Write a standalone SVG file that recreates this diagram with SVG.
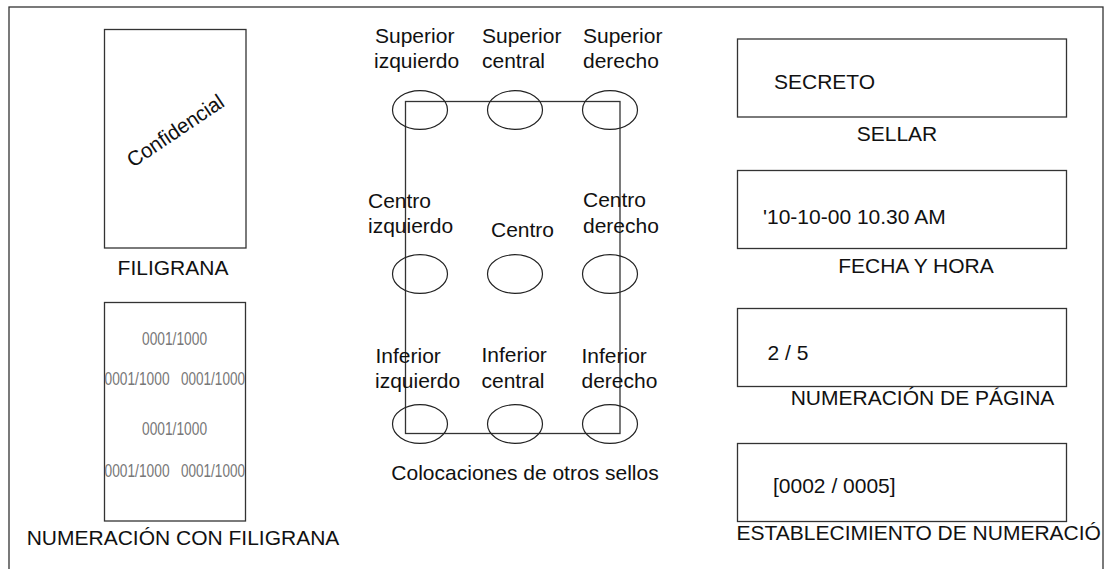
<svg xmlns="http://www.w3.org/2000/svg" width="1113" height="569" viewBox="0 0 1113 569">
<style>
.t{font-family:"Liberation Sans",Arial,sans-serif;font-size:21px;fill:#111}
.g{font-family:"Liberation Sans",Arial,sans-serif;font-size:18.5px;fill:#777}
.b{fill:none;stroke:#333;stroke-width:1.3}
.e{fill:none;stroke:#222;stroke-width:1.2}
.c{text-anchor:middle}
</style>
<rect x="0" y="0" width="1113" height="569" fill="#fff"/>
<rect id="frame" class="b" x="9" y="7" width="1094" height="580"/>

<g id="filigrana">
<rect class="b" x="104.5" y="29.5" width="141.5" height="218.5"/>
<text class="t" transform="translate(133,168) rotate(-34)" textLength="112" lengthAdjust="spacingAndGlyphs">Confidencial</text>
<text class="t c" x="173" y="275">FILIGRANA</text>
</g>

<g id="numeracion-filigrana">
<rect class="b" x="104.5" y="302.5" width="141" height="218.5"/>
<text class="g" transform="translate(142,345) scale(0.744,1)">0001/1000</text>
<text class="g" transform="translate(104.5,385) scale(0.744,1)">0001/1000</text>
<text class="g" transform="translate(181,385) scale(0.732,1)">0001/1000</text>
<text class="g" transform="translate(142,435) scale(0.744,1)">0001/1000</text>
<text class="g" transform="translate(104.5,476.5) scale(0.744,1)">0001/1000</text>
<text class="g" transform="translate(181,476.5) scale(0.732,1)">0001/1000</text>
<text class="t c" x="183" y="545">NUMERACIÓN CON FILIGRANA</text>
</g>

<g id="colocaciones">
<rect class="b" x="405.5" y="101.5" width="214.5" height="332"/>
<ellipse class="e" cx="420" cy="110" rx="27.5" ry="19.3"/>
<ellipse class="e" cx="515" cy="110" rx="27.5" ry="19.3"/>
<ellipse class="e" cx="610" cy="110" rx="27.5" ry="19.3"/>
<ellipse class="e" cx="420" cy="274" rx="27.5" ry="19.3"/>
<ellipse class="e" cx="515" cy="274" rx="27.5" ry="19.3"/>
<ellipse class="e" cx="610" cy="274" rx="27.5" ry="19.3"/>
<ellipse class="e" cx="420" cy="424" rx="27.5" ry="19.3"/>
<ellipse class="e" cx="515" cy="424" rx="27.5" ry="19.3"/>
<ellipse class="e" cx="610" cy="424" rx="27.5" ry="19.3"/>
<text class="t" x="375" y="43">Superior</text>
<text class="t" x="374" y="68">izquierdo</text>
<text class="t" x="482" y="43">Superior</text>
<text class="t" x="482" y="68">central</text>
<text class="t" x="583" y="43">Superior</text>
<text class="t" x="583" y="68">derecho</text>
<text class="t" x="368" y="208">Centro</text>
<text class="t" x="368" y="233">izquierdo</text>
<text class="t" x="491" y="237">Centro</text>
<text class="t" x="583" y="207">Centro</text>
<text class="t" x="583" y="233">derecho</text>
<text class="t" x="375.5" y="362.5">Inferior</text>
<text class="t" x="375" y="388">izquierdo</text>
<text class="t" x="481.5" y="361.5">Inferior</text>
<text class="t" x="481.5" y="387.5">central</text>
<text class="t" x="581.5" y="362.5">Inferior</text>
<text class="t" x="581.5" y="388">derecho</text>
<text class="t c" x="525" y="480">Colocaciones de otros sellos</text>
</g>

<g id="sellar">
<rect class="b" x="737.5" y="39" width="329" height="78"/>
<text class="t" x="774" y="89">SECRETO</text>
<text class="t c" x="897" y="141">SELLAR</text>
</g>

<g id="fecha-hora">
<rect class="b" x="737.5" y="170.5" width="329" height="78"/>
<text class="t" x="763" y="224">'10-10-00 10.30 AM</text>
<text class="t c" x="916" y="273">FECHA Y HORA</text>
</g>

<g id="numeracion-pagina">
<rect class="b" x="737.5" y="308.5" width="329" height="78"/>
<text class="t" x="767.5" y="360">2 / 5</text>
<text class="t c" x="922.5" y="405">NUMERACIÓN DE PÁGINA</text>
</g>

<g id="establecimiento">
<rect class="b" x="737.5" y="443.5" width="329" height="78"/>
<text class="t" x="773" y="493">[0002 / 0005]</text>
<text class="t" x="736.5" y="540">ESTABLECIMIENTO DE NUMERACIÓ</text>
</g>
</svg>
